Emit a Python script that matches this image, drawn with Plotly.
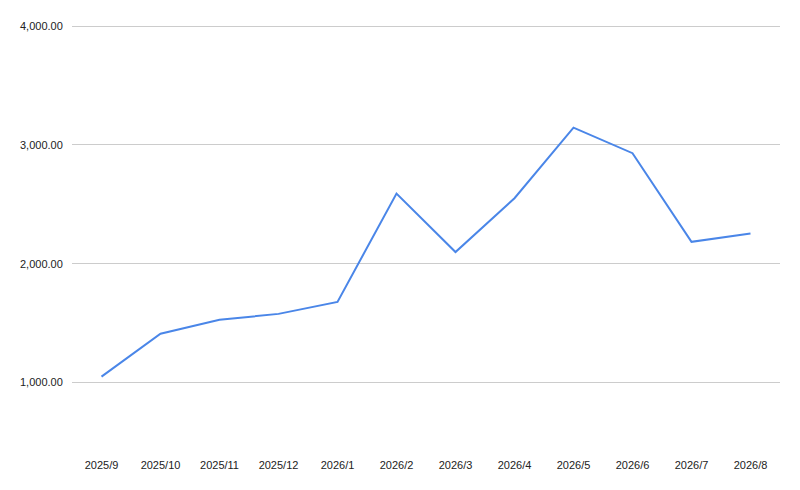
import plotly.graph_objects as go

months = ["2025/9", "2025/10", "2025/11", "2025/12", "2026/1", "2026/2",
          "2026/3", "2026/4", "2026/5", "2026/6", "2026/7", "2026/8"]
values = [1050, 1411, 1528, 1578, 1679, 2590, 2098, 2551, 3145, 2930, 2184, 2254]
y_ticks = [1000, 2000, 3000, 4000]

fig = go.Figure()
fig.add_trace(go.Scatter(
    x=months, y=values, mode="lines",
    line=dict(color="#4a86e8", width=2),
    hoverinfo="x+y",
))

fig.update_layout(
    width=800, height=490,
    margin=dict(l=60, r=28, t=14, b=56),
    paper_bgcolor="white", plot_bgcolor="white",
    showlegend=False,
    font=dict(family="Liberation Sans, Arial, sans-serif", size=11, color="#222222"),
    xaxis=dict(
        type="category", range=[-0.5, 11.5],
        showgrid=False, zeroline=False, showline=False,
        ticks="outside", ticklen=13, tickcolor="rgba(0,0,0,0)",
        tickfont=dict(size=11, color="#222222"),
    ),
    yaxis=dict(
        range=[500, 4017], tickvals=y_ticks,
        tickformat=",.2f",
        showgrid=True, gridcolor="#cccccc", gridwidth=1,
        zeroline=False, showline=False,
        ticks="outside", ticklen=6, tickcolor="rgba(0,0,0,0)",
        tickfont=dict(size=11, color="#222222"),
    ),
)

fig.write_html("out.html")
